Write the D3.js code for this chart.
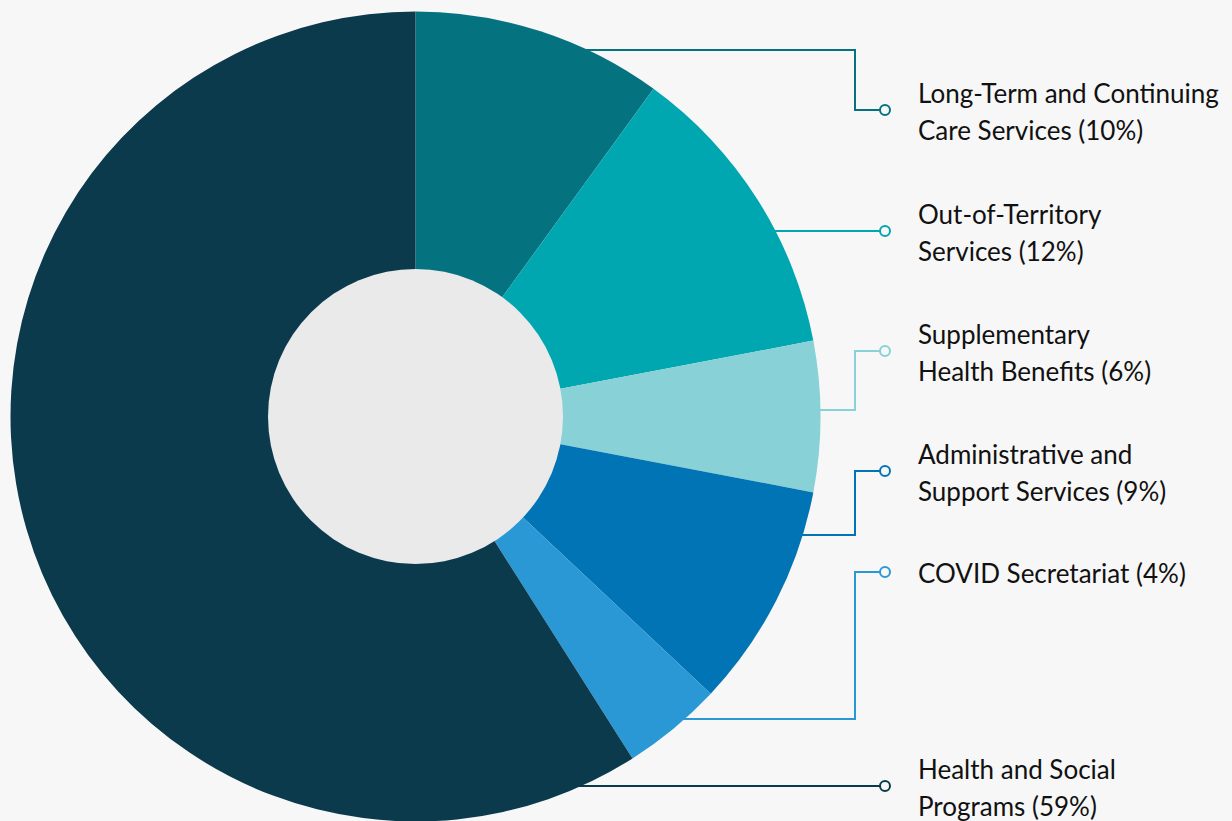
<!DOCTYPE html>
<html>
<head>
<meta charset="utf-8">
<script src="https://cdn.jsdelivr.net/npm/d3@7"></script>
<style>
  html, body { margin: 0; padding: 0; background: #f7f7f7; }
  #canvas { width: 1232px; height: 821px; overflow: hidden; }
  text { font-family: Lato, "Noto Sans", sans-serif; fill: #111111; }
</style>
</head>
<body>
<div id="canvas" class="canvas"></div>
<script>
// spending shares (percent)
var categories = [
    "Long-Term and Continuing Care Services",
    "Out-of-Territory Services",
    "Supplementary Health Benefits",
    "Administrative and Support Services",
    "COVID Secretariat",
    "Health and Social Programs"
];
var values = [10, 12, 6, 9, 4, 59];
// label text, split in lines
var labelLines = [
    ["Long-Term and Continuing", "Care Services (10%)"],
    ["Out-of-Territory", "Services (12%)"],
    ["Supplementary", "Health Benefits (6%)"],
    ["Administrative and", "Support Services (9%)"],
    ["COVID Secretariat (4%)"],
    ["Health and Social", "Programs (59%)"]
];
var colors = ["#05737f", "#00a6b0", "#88d1d6", "#0074b5", "#2a98d5", "#0b3a4c"];

// layout of the leader lines (y where line leaves the pie, y of the label dot)
var anchorY = [50, 231, 410, 535, 719, 786];
var dotY = [110, 231, 351, 471, 572, 786];

var W = 1232, H = 821,
    cx = 415.5, cy = 416.5,
    R = 405, r = 147.5,
    elbowX = 855, dotX = 885, textX = 918,
    lineH = 37;

var svg = d3.select('.canvas')
    .append('svg')
    .attr('width', W)
    .attr('height', H);

svg.append('rect')
    .attr('width', W).attr('height', H)
    .style('fill', '#f7f7f7');

var data = categories.map(function(c, i){
    return {name: c, value: values[i], color: colors[i], lines: labelLines[i], ay: anchorY[i], dy: dotY[i]};
});

//leader lines first, pie drawn over them
var leaders = svg.selectAll('.leader')
    .data(data)
    .enter()
    .append('g').attr('class', 'leader');

leaders.append('path')
    .attr('d', function(d){
        var x0 = cx + Math.sqrt(R*R - (d.ay-cy)*(d.ay-cy)) - 6;
        if(d.ay == d.dy){
            return 'M' + x0 + ',' + d.ay + 'H' + dotX;
        }
        return 'M' + x0 + ',' + d.ay + 'H' + elbowX + 'V' + d.dy + 'H' + dotX;
    })
    .style('fill', 'none')
    .style('stroke', function(d){ return d.color; })
    .style('stroke-width', 2);

leaders.append('circle')
    .attr('cx', dotX)
    .attr('cy', function(d){ return d.dy; })
    .attr('r', 5)
    .style('fill', '#f7f7f7')
    .style('stroke', function(d){ return d.color; })
    .style('stroke-width', 2);

var pie = d3.pie()
    .sort(null)
    .value(function(d){ return d.value; });

var arc = d3.arc()
    .innerRadius(0)
    .outerRadius(R);

var plot = svg.append('g')
    .attr('transform', 'translate(' + cx + ',' + cy + ')');

plot.selectAll('.slice')
    .data(pie(data))
    .enter()
    .append('path')
    .attr('class', 'slice')
    .attr('d', arc)
    .style('fill', function(d){ return d.data.color; });

plot.append('circle')
    .attr('r', r)
    .style('fill', '#eaeaea');

//labels, baseline centred on the dot
var labels = svg.selectAll('.label')
    .data(data)
    .enter()
    .append('text')
    .attr('class', 'label')
    .attr('x', textX)
    .attr('y', function(d){
        var n = d.lines.length;
        return d.dy + 11 - (n-1)*lineH/2;
    })
    .style('font-size', '26px');

labels.selectAll('tspan')
    .data(function(d){ return d.lines; })
    .enter()
    .append('tspan')
    .attr('x', textX)
    .attr('dy', function(d, i){ return i == 0 ? 0 : lineH; })
    .text(function(d){ return d; });
</script>
</body>
</html>
